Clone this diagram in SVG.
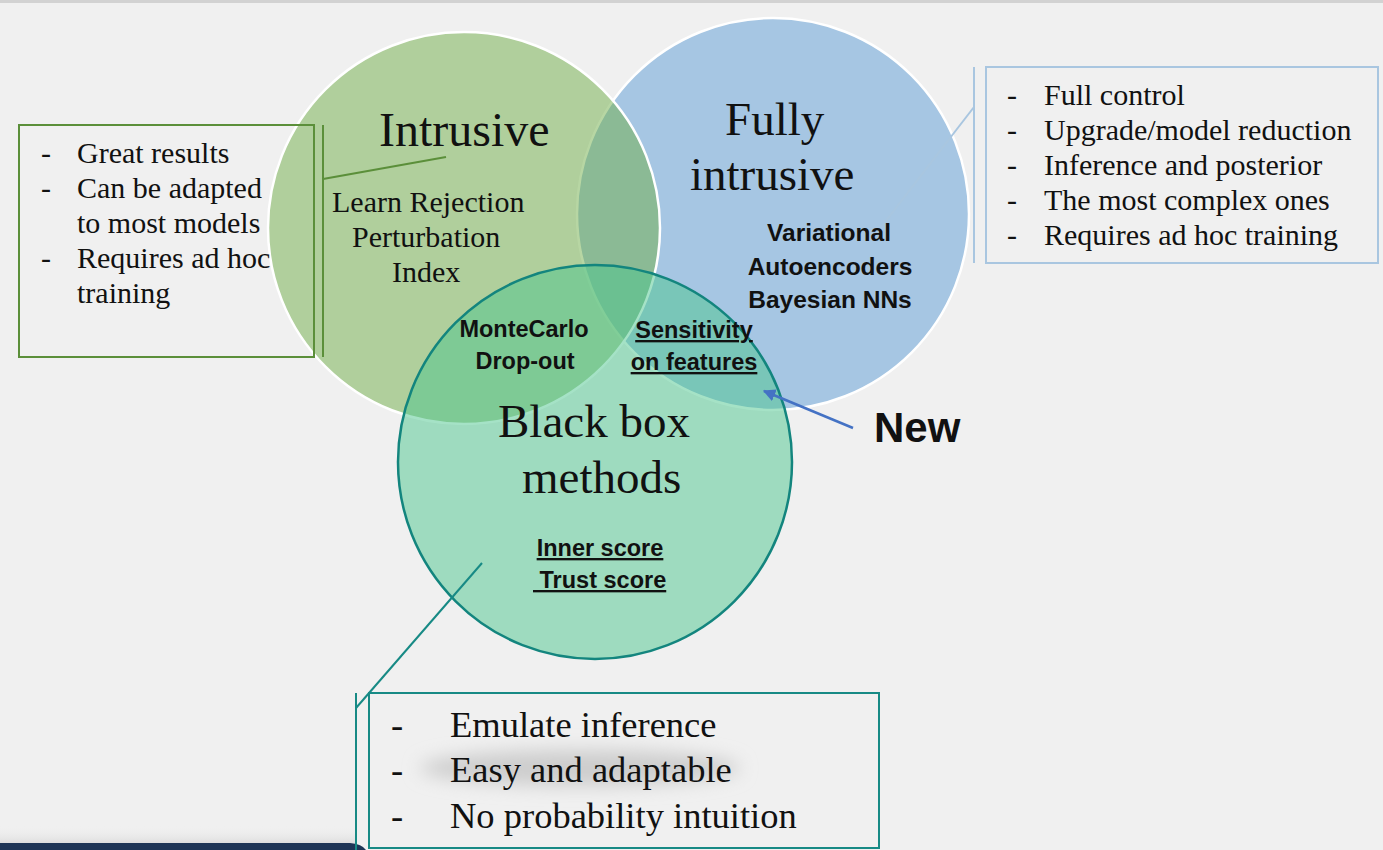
<svg xmlns="http://www.w3.org/2000/svg" width="1383" height="850" viewBox="0 0 1383 850">
  <defs>
    <style>
      .serif { font-family: "Liberation Serif", "Times New Roman", serif; fill: #111; }
      .item { font-size: 30px; }
      .big-item { font-size: 36.5px; }
      .head { font-size: 47px; }
      .sans { font-family: "Liberation Sans", Arial, sans-serif; font-weight: bold; fill: #111; }
      .method { font-size: 23.5px; }
      .ul { text-decoration: underline; }
      .venn-blue { fill: #5b9bd5; fill-opacity: 0.5; stroke: #ffffff; stroke-width: 2.5; }
      .venn-green { fill: #70ad47; fill-opacity: 0.5; stroke: #ffffff; stroke-width: 2.5; }
      .venn-teal { fill: #4cc68e; fill-opacity: 0.5; stroke: #13857e; stroke-width: 2.5; }
      .call-green { fill: none; stroke: #5b8f3a; stroke-width: 2; }
      .call-blue { fill: none; stroke: #a9c6e0; stroke-width: 2; }
      .call-teal { fill: none; stroke: #178a85; stroke-width: 2; }
    </style>
    <marker id="arrowhead" viewBox="0 0 10 10" refX="9" refY="5" markerWidth="5" markerHeight="5" orient="auto" markerUnits="strokeWidth">
      <path d="M0,0 L10,5 L0,10 Z" fill="#4472c4"/>
    </marker>
    <filter id="soft" x="-30%" y="-150%" width="160%" height="400%">
      <feGaussianBlur stdDeviation="9"/>
    </filter>
    <linearGradient id="floorShade" x1="0" y1="0" x2="0" y2="1">
      <stop offset="0" stop-color="#f0f0f0" stop-opacity="0"/>
      <stop offset="1" stop-color="#dedede"/>
    </linearGradient>
  </defs>

  <!-- page background -->
  <rect x="0" y="0" width="1383" height="850" fill="#f0f0f0"/>
  <rect x="0" y="0" width="1383" height="3" fill="#d2d2d2"/>

  <!-- bottom-left footer band -->
  <rect x="0" y="826" width="355" height="17" fill="url(#floorShade)"/>
  <path d="M0,843 L350,843 Q362,844 366,850 L0,850 Z" fill="#1f3556"/>

  <!-- Venn circles -->
  <g id="fully-intrusive">
    <circle class="venn-blue" cx="773" cy="214" r="196"/>
  </g>
  <g id="intrusive">
    <circle class="venn-green" cx="464" cy="228" r="196"/>
  </g>
  <g id="black-box">
    <circle class="venn-teal" cx="595" cy="462" r="197"/>
  </g>

  <!-- callout leader lines and arrow -->
  <g id="connectors">
    <line class="call-green" x1="323" y1="125" x2="323" y2="357"/>
    <line class="call-green" x1="323" y1="179" x2="446" y2="157"/>
    <line class="call-blue" x1="974" y1="67" x2="974" y2="263"/>
    <line class="call-blue" x1="974" y1="107" x2="882" y2="226" stroke="#c2d7ea"/>
    <line class="call-teal" x1="356" y1="693" x2="356" y2="850"/>
    <line class="call-teal" x1="482" y1="563" x2="356" y2="708"/>
    <line x1="853" y1="428" x2="764" y2="391" stroke="#4472c4" stroke-width="2.5" marker-end="url(#arrowhead)"/>
  </g>

  <!-- circle labels -->
  <g id="intrusive-labels">
    <text class="serif head" x="379" y="146" style="font-size:48px">Intrusive</text>
    <text class="serif item" x="332" y="212">Learn Rejection</text>
    <text class="serif item" x="352" y="247">Perturbation</text>
    <text class="serif item" x="392" y="282">Index</text>
  </g>
  <g id="fully-intrusive-labels">
    <text class="serif head" x="725" y="135">Fully</text>
    <text class="serif head" x="690" y="190">intrusive</text>
    <text class="sans method" x="829" y="241" text-anchor="middle" style="font-size:24.5px">Variational</text>
    <text class="sans method" x="830" y="275" text-anchor="middle" style="font-size:24.5px">Autoencoders</text>
    <text class="sans method" x="830" y="308" text-anchor="middle" style="font-size:24.5px">Bayesian NNs</text>
  </g>
  <g id="overlap-labels">
    <text class="sans method" x="524" y="337" text-anchor="middle">MonteCarlo</text>
    <text class="sans method" x="525" y="369" text-anchor="middle">Drop-out</text>
    <text class="sans method ul" x="694" y="338" text-anchor="middle">Sensitivity</text>
    <text class="sans method ul" x="694" y="370" text-anchor="middle">on features</text>
  </g>
  <g id="black-box-labels">
    <text class="serif head" x="498" y="437">Black box</text>
    <text class="serif head" x="522" y="493">methods</text>
    <text class="sans method ul" x="600" y="556" text-anchor="middle">Inner score</text>
    <text class="sans method ul" x="533" y="588" xml:space="preserve"> Trust score</text>
  </g>
  <g id="new-tag">
    <text class="sans" x="874" y="442" style="font-size:42px">New</text>
  </g>

  <!-- left callout: intrusive -->
  <g id="intrusive-notes">
    <rect class="call-green" x="19" y="125" width="295" height="232"/>
    <text class="serif item" x="41" y="163">-</text>
    <text class="serif item" x="77" y="163">Great results</text>
    <text class="serif item" x="41" y="198">-</text>
    <text class="serif item" x="77" y="198">Can be adapted</text>
    <text class="serif item" x="77" y="233">to most models</text>
    <text class="serif item" x="41" y="268">-</text>
    <text class="serif item" x="77" y="268">Requires ad hoc</text>
    <text class="serif item" x="77" y="303">training</text>
  </g>

  <!-- right callout: fully intrusive -->
  <g id="fully-intrusive-notes">
    <rect class="call-blue" x="986" y="67" width="392" height="196"/>
    <text class="serif item" x="1007" y="105">-</text>
    <text class="serif item" x="1044" y="105">Full control</text>
    <text class="serif item" x="1007" y="140">-</text>
    <text class="serif item" x="1044" y="140">Upgrade/model reduction</text>
    <text class="serif item" x="1007" y="175">-</text>
    <text class="serif item" x="1044" y="175">Inference and posterior</text>
    <text class="serif item" x="1007" y="210">-</text>
    <text class="serif item" x="1044" y="210">The most complex ones</text>
    <text class="serif item" x="1007" y="245">-</text>
    <text class="serif item" x="1044" y="245">Requires ad hoc training</text>
  </g>

  <!-- bottom callout: black box -->
  <g id="black-box-notes">
    <ellipse cx="580" cy="768" rx="160" ry="18" fill="#cdcdcd" filter="url(#soft)"/>
    <rect class="call-teal" x="369" y="693" width="510" height="155"/>
    <text class="serif big-item" x="391" y="737">-</text>
    <text class="serif big-item" x="450" y="737">Emulate inference</text>
    <text class="serif big-item" x="391" y="782">-</text>
    <text class="serif big-item" x="450" y="782">Easy and adaptable</text>
    <text class="serif big-item" x="391" y="828">-</text>
    <text class="serif big-item" x="450" y="828">No probability intuition</text>
  </g>
</svg>
